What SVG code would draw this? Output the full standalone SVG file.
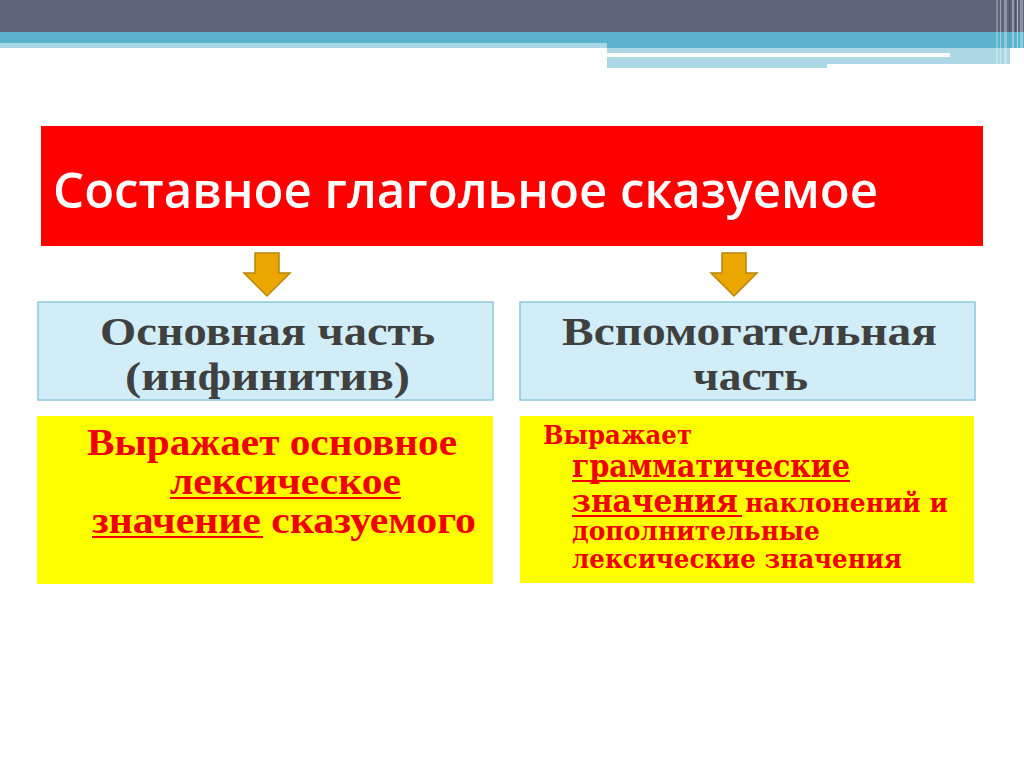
<svg xmlns="http://www.w3.org/2000/svg" width="1024" height="767" viewBox="0 0 1024 767">
<style>
.blue{fill:#d1eef8;stroke:#8ec8dc;stroke-width:1.5}
.yel{fill:#ffff00}
.bt{font-family:"Liberation Serif","Times New Roman",serif;font-weight:bold;font-size:39px;fill:#404040}
.lt{font-family:"Liberation Serif","Times New Roman",serif;font-weight:bold;font-size:37px;fill:#f00000}
.rt{font-family:"DejaVu Serif","Liberation Serif",serif;font-weight:bold;fill:#f00000}
.arr{fill:#eba600;stroke:#b8860b;stroke-width:1.5;stroke-linejoin:miter}
.ul{stroke:#f00000;stroke-width:2}
</style>
<rect width="1024" height="767" fill="#ffffff"/>
<g id="header">
<rect x="0" y="0" width="1024" height="32" fill="#5c657a"/>
<rect x="0" y="32" width="1024" height="11" fill="#5cb3cd"/>
<rect x="0" y="43" width="607" height="5" fill="#a9d7e5"/>
<rect x="607" y="43" width="417" height="5" fill="#5cb3cd"/>
<rect x="607" y="48" width="343" height="5" fill="#acd8e6"/>
<rect x="950" y="48" width="60" height="16" fill="#acd8e6"/>
<rect x="607" y="57" width="220" height="11" fill="#acd8e6"/>
<rect x="827" y="57" width="183" height="7" fill="#acd8e6"/>
<g fill="#ffffff">
<rect x="996" y="0" width="2" height="66" opacity="0.25"/>
<rect x="1000" y="0" width="1" height="66" opacity="0.4"/>
<rect x="1004" y="0" width="3" height="66" opacity="0.3"/>
<rect x="1012" y="0" width="2" height="68" opacity="0.35"/>
<rect x="1017" y="0" width="1" height="68" opacity="0.5"/>
<rect x="1020" y="0" width="3" height="68" opacity="0.3"/>
</g>
<g fill="#3e4556">
<rect x="1009" y="0" width="1" height="32" opacity="0.6"/>
<rect x="1015" y="0" width="1" height="32" opacity="0.5"/>
</g>
</g>
<g id="title">
<rect x="41" y="126" width="942" height="120" fill="#ff0000"/>
<text x="53" y="208" font-family="'Open Sans','DejaVu Sans',sans-serif" font-weight="600" font-size="48" fill="#ffffff" textLength="825" lengthAdjust="spacingAndGlyphs">Составное глагольное сказуемое</text>
</g>
<g id="connectors">
<polygon class="arr" points="255,253 279,253 279,273 290,273 267,296 244,273 255,273"/>
<polygon class="arr" points="722,253 746,253 746,273 757,273 734,296 711,273 722,273"/>
</g>
<g id="main-part">
<rect class="blue" x="38" y="302" width="455" height="98"/>
<text class="bt" x="100" y="345" textLength="335" lengthAdjust="spacingAndGlyphs">Основная часть</text>
<text class="bt" x="125" y="390" textLength="285" lengthAdjust="spacingAndGlyphs">(инфинитив)</text>
</g>
<g id="aux-part">
<rect class="blue" x="520" y="302" width="455" height="98"/>
<text class="bt" x="562" y="345" textLength="375" lengthAdjust="spacingAndGlyphs">Вспомогательная</text>
<text class="bt" x="693" y="390" textLength="115" lengthAdjust="spacingAndGlyphs">часть</text>
</g>
<g id="main-desc">
<rect class="yel" x="37" y="416" width="456" height="168"/>
<text class="lt" x="87" y="455" textLength="370" lengthAdjust="spacingAndGlyphs">Выражает основное</text>
<text class="lt" x="170" y="494" textLength="231" lengthAdjust="spacingAndGlyphs">лексическое</text>
<line class="ul" x1="170" y1="498" x2="401" y2="498"/>
<text class="lt" x="92" y="533" textLength="384" lengthAdjust="spacingAndGlyphs">значение сказуемого</text>
<line class="ul" x1="92" y1="537" x2="263" y2="537"/>
</g>
<g id="aux-desc">
<rect class="yel" x="520" y="416" width="454" height="167"/>
<text class="rt" x="543" y="444" font-size="26" textLength="149" lengthAdjust="spacingAndGlyphs">Выражает</text>
<text class="rt" x="572" y="477" font-size="31" textLength="278" lengthAdjust="spacingAndGlyphs">грамматические</text>
<line class="ul" x1="572" y1="481" x2="850" y2="481"/>
<text class="rt" x="572" y="512" font-size="31" textLength="166" lengthAdjust="spacingAndGlyphs">значения</text>
<line class="ul" x1="572" y1="516" x2="742" y2="516"/>
<text class="rt" x="745" y="512" font-size="26" textLength="203" lengthAdjust="spacingAndGlyphs">наклонений и</text>
<text class="rt" x="572" y="540" font-size="26" textLength="248" lengthAdjust="spacingAndGlyphs">дополнительные</text>
<text class="rt" x="572" y="568" font-size="26" textLength="330" lengthAdjust="spacingAndGlyphs">лексические значения</text>
</g>
</svg>
